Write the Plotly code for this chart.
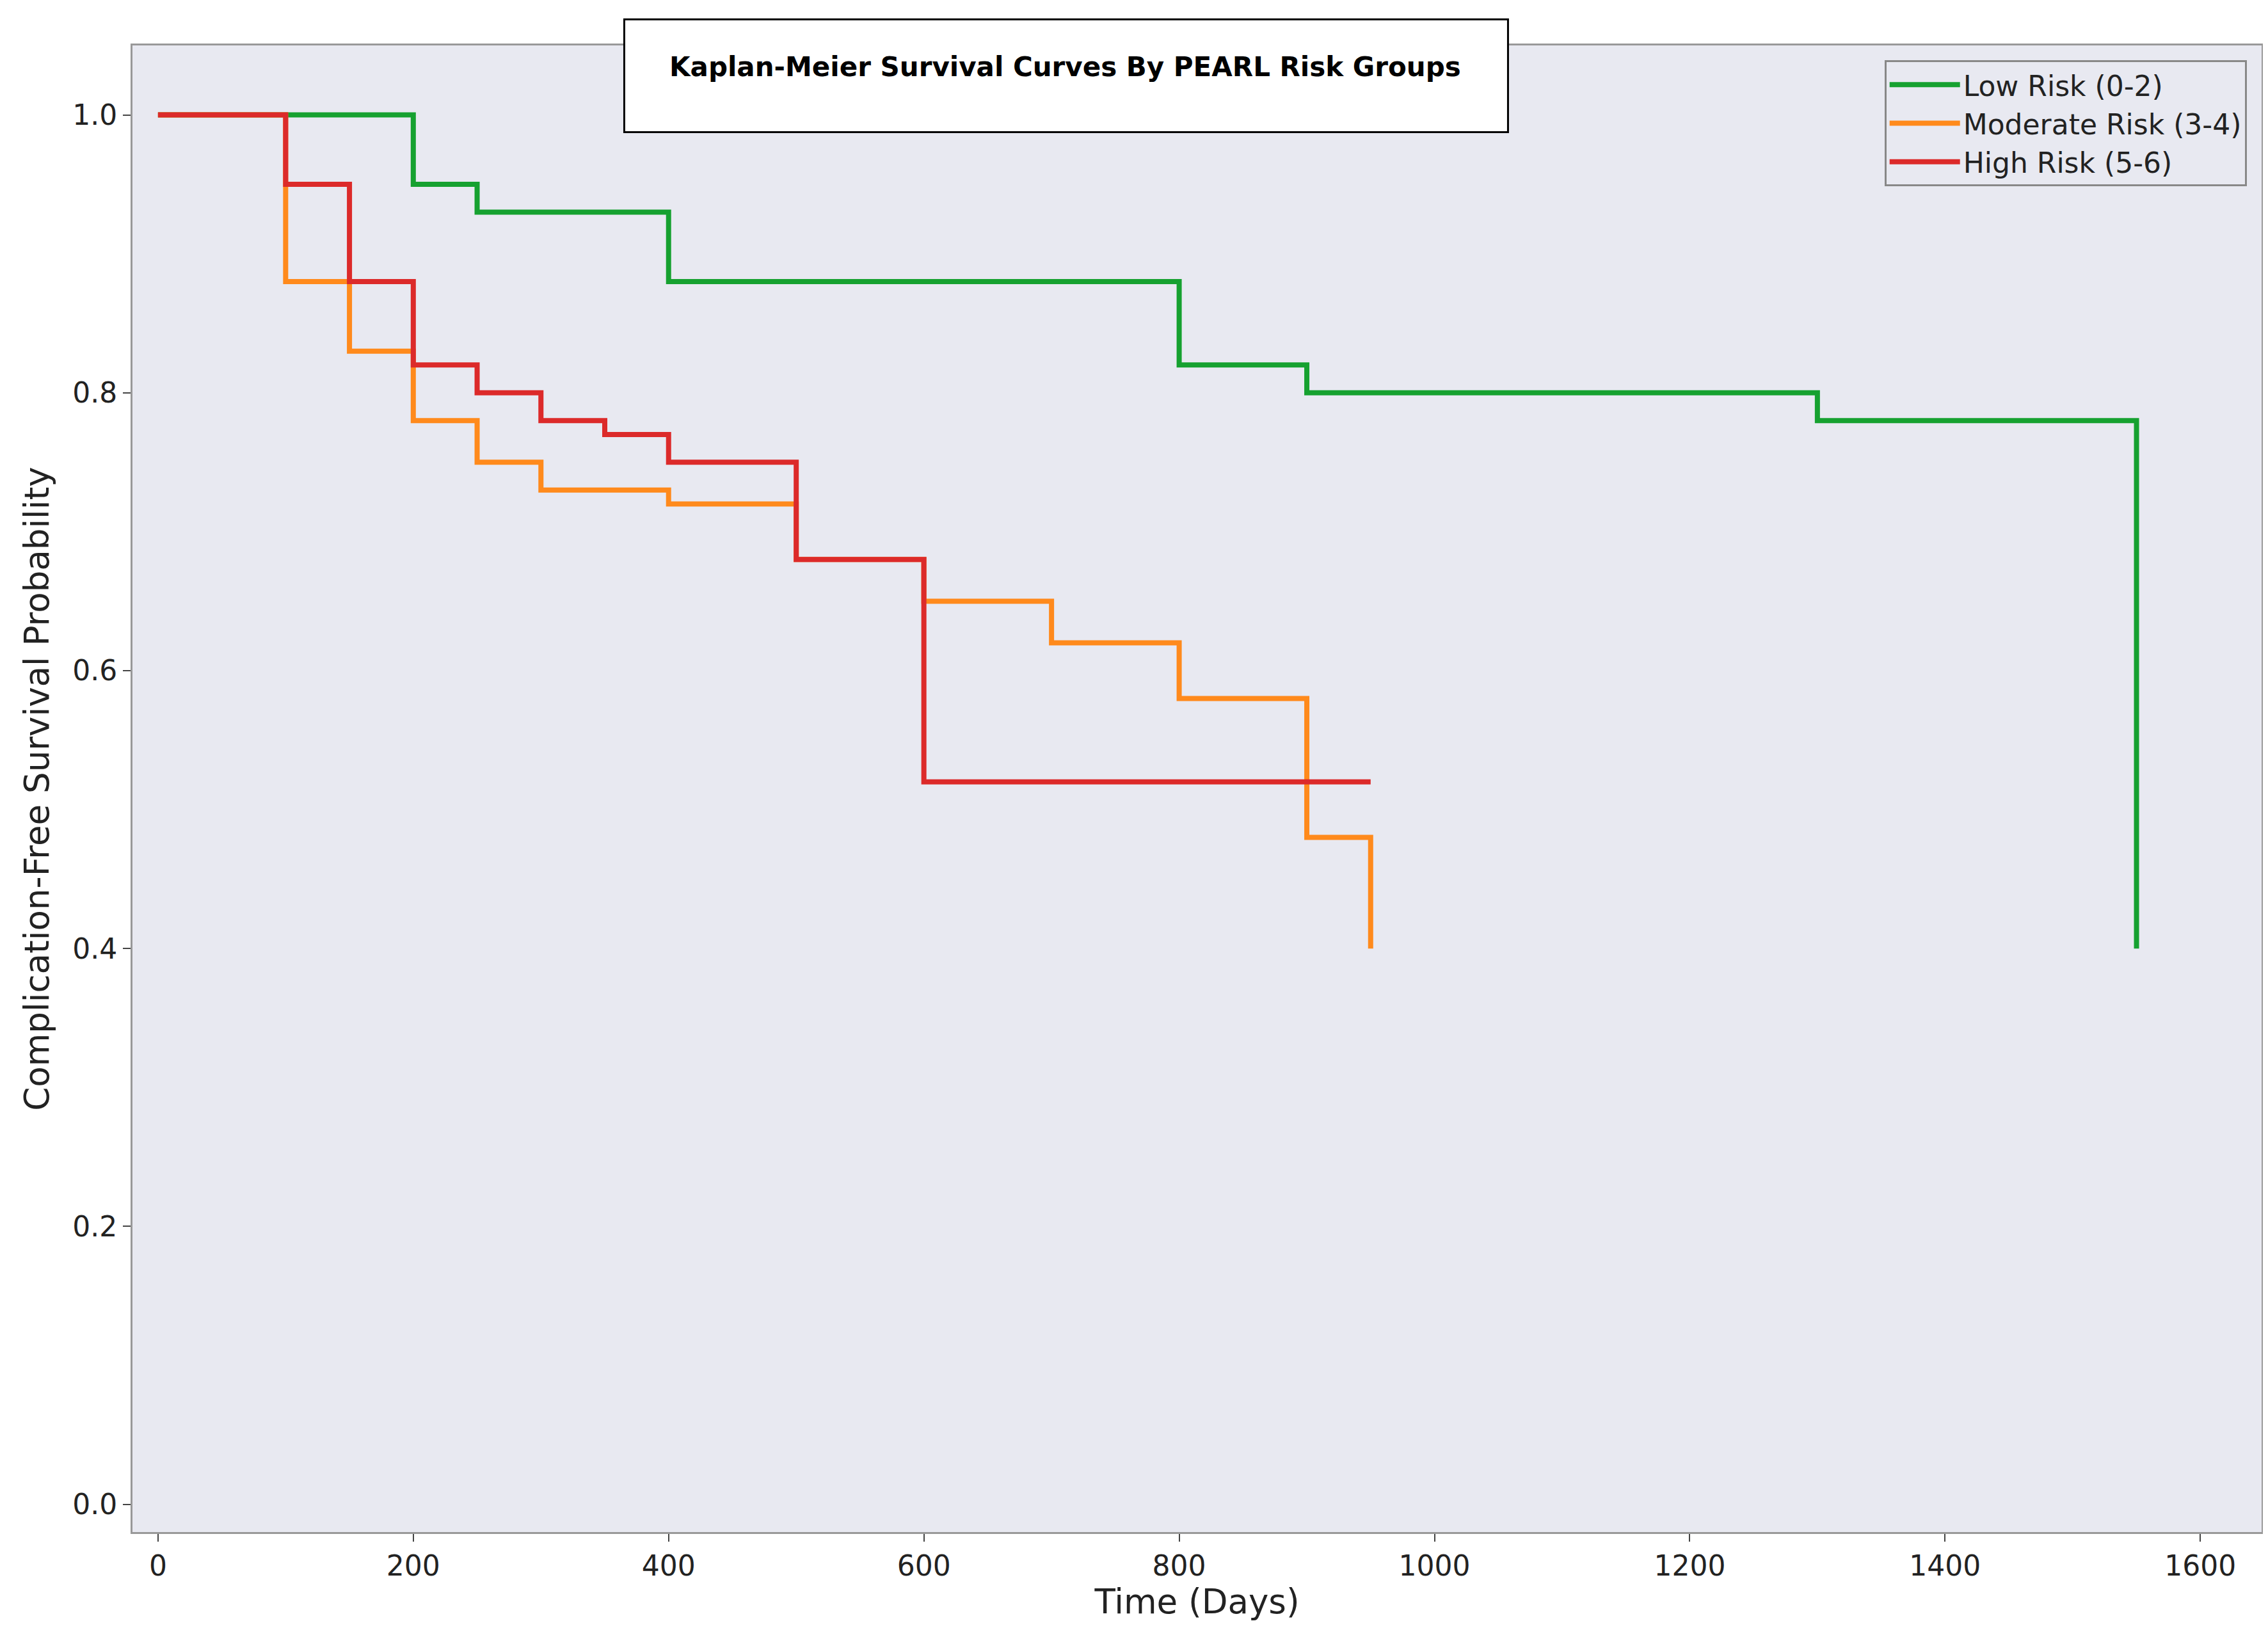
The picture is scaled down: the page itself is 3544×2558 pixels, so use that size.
import plotly.graph_objects as go

low_t = [0, 200, 250, 400, 800, 900, 1300, 1550, 1550]
low_s = [1.0, 0.95, 0.93, 0.88, 0.82, 0.80, 0.78, 0.78, 0.40]
mod_t = [0, 100, 150, 200, 250, 300, 400, 500, 600, 700, 800, 900, 950, 950]
mod_s = [1.0, 0.88, 0.83, 0.78, 0.75, 0.73, 0.72, 0.68, 0.65, 0.62, 0.58, 0.48, 0.48, 0.40]
high_t = [0, 100, 150, 200, 250, 300, 350, 400, 500, 600, 950]
high_s = [1.0, 0.95, 0.88, 0.82, 0.80, 0.78, 0.77, 0.75, 0.68, 0.52, 0.52]

fig = go.Figure()
for t, s, name, c in [(low_t, low_s, "Low Risk (0-2)", "#16a130"),
                      (mod_t, mod_s, "Moderate Risk (3-4)", "#ff8a1c"),
                      (high_t, high_s, "High Risk (5-6)", "#dc2a2a")]:
    fig.add_trace(go.Scatter(x=t, y=s, mode="lines", name=name,
                             line=dict(color=c, width=8, shape="hv")))

font = dict(family="DejaVu Sans", size=44, color="#222")
fig.update_layout(
    width=3544, height=2558, paper_bgcolor="white", plot_bgcolor="#e8e9f1",
    margin=dict(l=199, r=18, t=63, b=172), font=font,
    legend=dict(x=0.993, y=0.99, xanchor="right", yanchor="top", bgcolor="#e8e9f1",
                bordercolor="#888", borderwidth=3, itemwidth=110,
                font=dict(family="DejaVu Sans", size=44)),
    xaxis=dict(range=[-20, 1648], tickvals=list(range(0, 1700, 200)), showgrid=False, zeroline=False,
               ticks="outside", ticklen=12, tickwidth=2, showline=True, linecolor="#999", linewidth=3,
               mirror=True, title=dict(text="Time (Days)", standoff=10)),
    yaxis=dict(range=[-0.02, 1.05], tickvals=[0, 0.2, 0.4, 0.6, 0.8, 1.0], tickformat=".1f",
               showgrid=False, zeroline=False, ticks="outside", ticklen=12, tickwidth=2,
               showline=True, linecolor="#999", linewidth=3, mirror=True,
               title=dict(text="Complication-Free Survival Probability", standoff=20)),
)
fig.add_shape(type="rect", xref="paper", yref="paper", x0=(428-88)/1472, x1=(1039-88)/1472,
              y0=1-(88-28)/1028, y1=1+(28-10)/1028, fillcolor="white", line=dict(color="black", width=3))
fig.add_annotation(xref="paper", yref="paper", x=(733-88)/1472, y=1-(31-28)/1028, showarrow=False,
                   text="<b>Kaplan-Meier Survival Curves By PEARL Risk Groups</b>",
                   font=dict(family="DejaVu Sans", size=42, color="black"))
fig.write_html("out.html")
